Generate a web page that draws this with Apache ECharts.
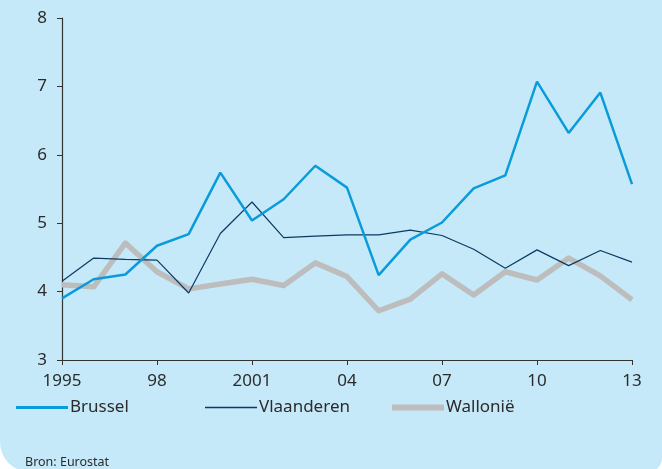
<!DOCTYPE html>
<html>
<head>
<meta charset="utf-8">
<script src="https://cdn.jsdelivr.net/npm/echarts@6/dist/echarts.min.js"></script>
<style>
    html, body { margin: 0; padding: 0; background: #ffffff; overflow: hidden; }
    #card {
        position: absolute; left: 0; top: -20px; width: 662px; height: 492px;
        background: #c6e9f9; border-radius: 0 0 14px 30px;
    }
    #chart { position: absolute; left: 0; top: 0; width: 662px; height: 469px; }
</style>
</head>
<body>
<div id="card"></div>
<div id="chart"></div>
<script>
// jaren op de x-as
const years = [1995, 1996, 1997, 1998, 1999, 2000, 2001, 2002, 2003, 2004,
    2005, 2006, 2007, 2008, 2009, 2010, 2011, 2012, 2013];
const brussel = [3.90, 4.18, 4.25, 4.67, 4.84, 5.74, 5.04, 5.35, 5.84, 5.52,
    4.24, 4.76, 5.01, 5.51, 5.70, 7.07, 6.32, 6.91, 5.57];
const vlaanderen = [4.15, 4.49, 4.47, 4.46, 3.98, 4.85, 5.31, 4.79, 4.81, 4.83,
    4.83, 4.90, 4.82, 4.62, 4.34, 4.61, 4.38, 4.60, 4.43];
const wallonie = [4.10, 4.07, 4.71, 4.29, 4.04, 4.11, 4.18, 4.09, 4.42, 4.22,
    3.72, 3.89, 4.26, 3.95, 4.29, 4.17, 4.49, 4.23, 3.88];
// labels: volledige jaartallen alleen bij eeuwwissel
const fullYearLabels = [1995, 2001];

const font = "'Noto Sans', sans-serif";
const textColor = "#2b2b2b";

function pairs(values) {
    let out = [];
    for (let i = 0; i < years.length; i++) {
        out.push([years[i], values[i]]);
    }
    return out;
}

function legendFor(name, left, height, color) {
    return {
        data: [name],
        left: left,
        top: 399,
        padding: 0,
        icon: "rect",
        itemWidth: 52,
        itemHeight: height,
        itemStyle: { color: color },
        textStyle: { fontFamily: font, fontSize: 17, color: textColor, padding: [0, 0, 0, -3] }
    };
}

const chart = echarts.init(document.getElementById("chart"));
chart.setOption({
    animation: false,
    backgroundColor: "transparent",
    title: {
        text: "Bron: Eurostat",
        left: 25,
        top: 456,
        padding: 0,
        textStyle: { fontFamily: font, fontSize: 12.5, fontWeight: "normal", color: textColor }
    },
    legend: [
        legendFor("Brussel", 16, 3, "#0a9bdb"),
        legendFor("Vlaanderen", 205, 1.5, "#0b3a64"),
        legendFor("Wallonië", 392, 6, "#bdbdbd")
    ],
    grid: { left: 62, right: 30, top: 18, bottom: 109 },
    xAxis: {
        type: "value",
        min: 1995,
        max: 2013,
        interval: 3,
        axisLine: { lineStyle: { color: "#333", width: 1.2 } },
        axisTick: { show: true, length: 5, lineStyle: { color: "#333" } },
        splitLine: { show: false },
        axisLabel: {
            margin: 13,
            fontFamily: font,
            fontSize: 17,
            color: textColor,
            formatter: function (v) {
                if (fullYearLabels.indexOf(v) >= 0) return String(v);
                return String(v).slice(2);
            }
        }
    },
    yAxis: {
        type: "value",
        min: 3,
        max: 8,
        interval: 1,
        axisLine: { show: true, lineStyle: { color: "#333", width: 1.2 } },
        axisTick: { show: true, length: 5, lineStyle: { color: "#333" } },
        splitLine: { show: false },
        axisLabel: { margin: 15, fontFamily: font, fontSize: 17, color: textColor }
    },
    series: [
        {
            name: "Wallonië",
            type: "line",
            z: 1,
            data: pairs(wallonie),
            showSymbol: false,
            lineStyle: { color: "#bdbdbd", width: 5.5, join: "round" },
            itemStyle: { color: "#bdbdbd" }
        },
        {
            name: "Vlaanderen",
            type: "line",
            z: 2,
            data: pairs(vlaanderen),
            showSymbol: false,
            lineStyle: { color: "#0b3a64", width: 1.2 },
            itemStyle: { color: "#0b3a64" }
        },
        {
            name: "Brussel",
            type: "line",
            z: 3,
            data: pairs(brussel),
            showSymbol: false,
            lineStyle: { color: "#0a9bdb", width: 2.5 },
            itemStyle: { color: "#0a9bdb" }
        }
    ]
});
</script>
</body>
</html>
